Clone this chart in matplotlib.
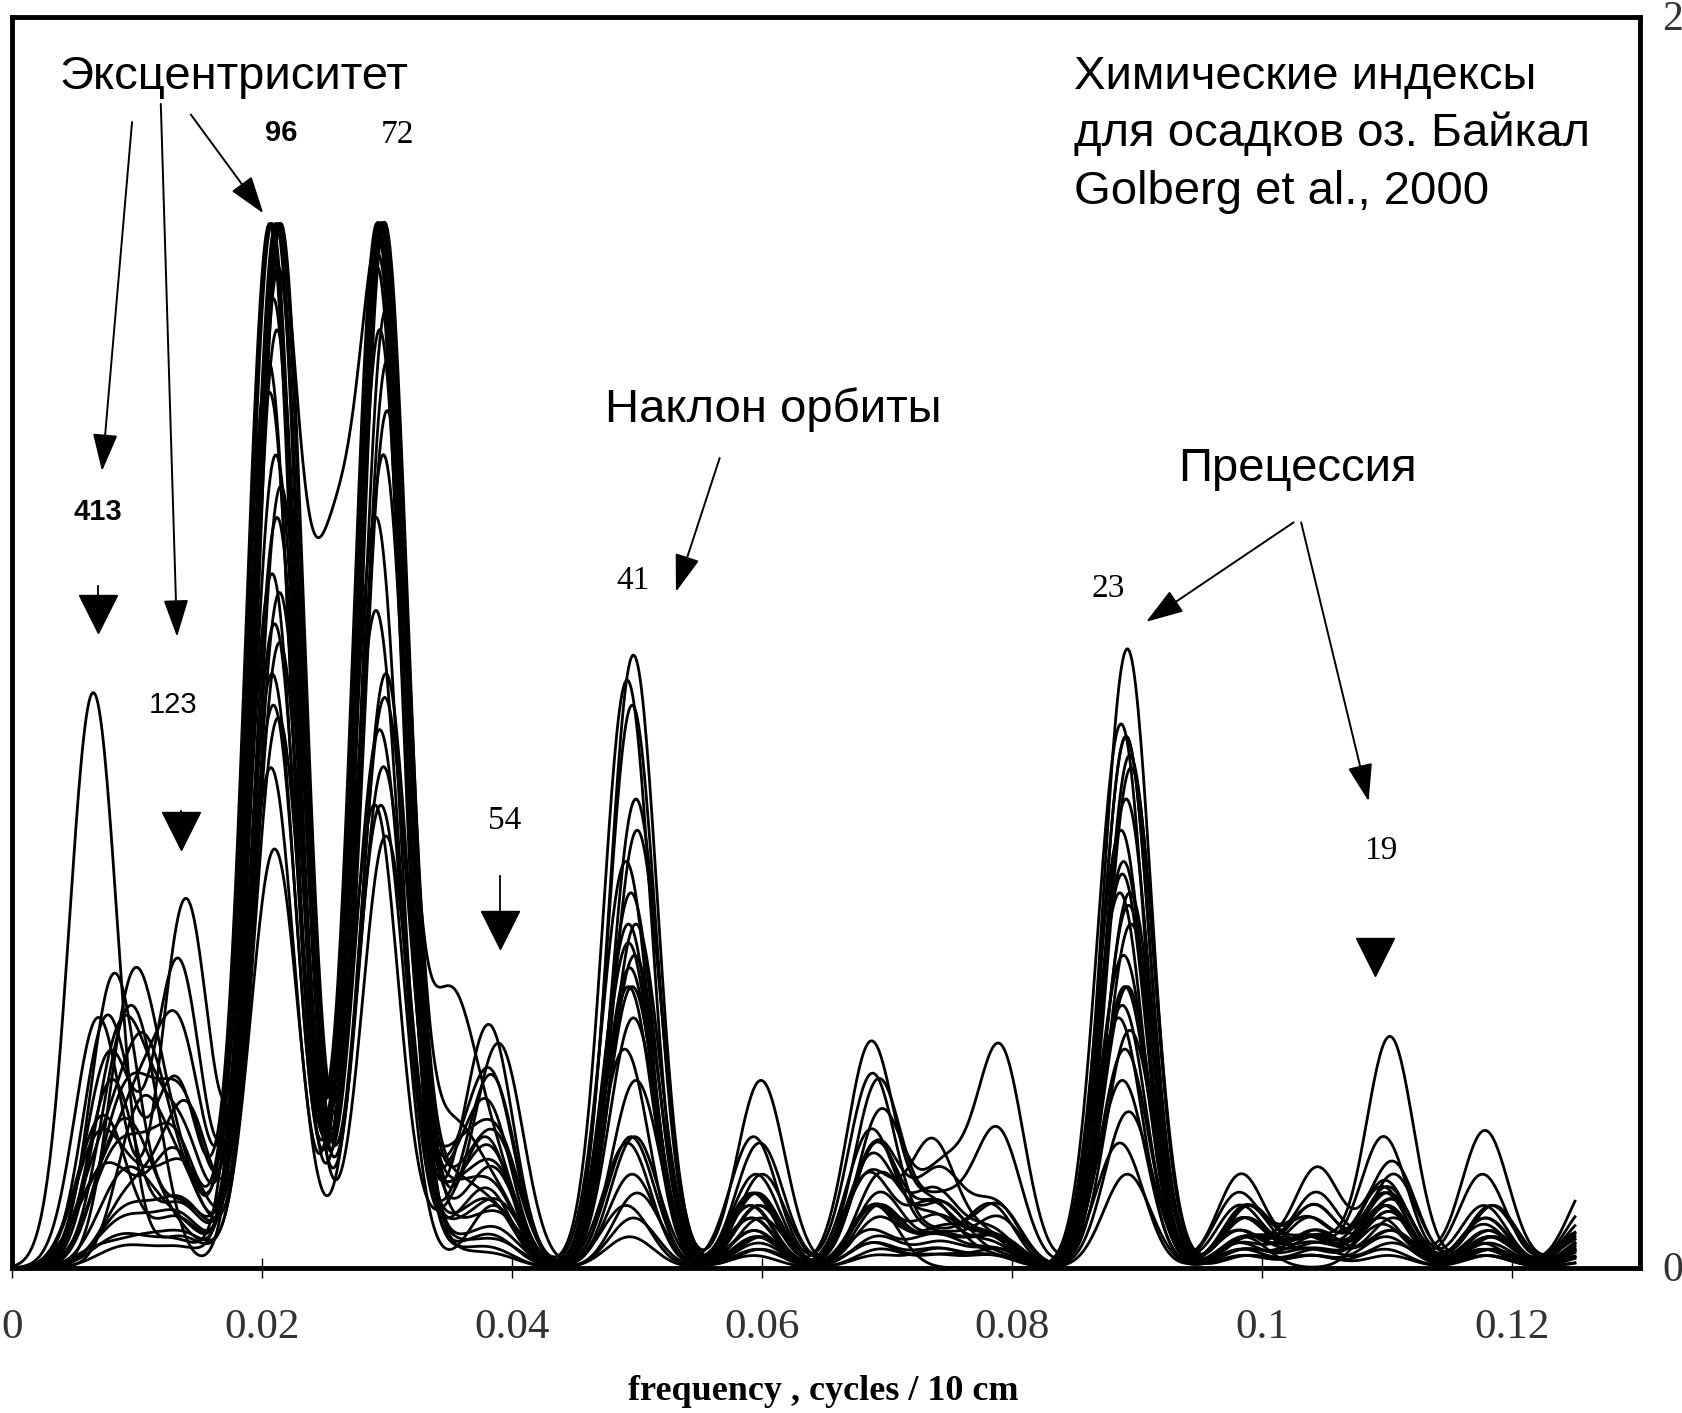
import numpy as np
import matplotlib.pyplot as plt

# spectral peak positions (cycles / 10 cm) shared by all records
peak_freq = [0.0065, 0.0080, 0.0100, 0.0135, 0.0210, 0.0255, 0.0295, 0.0350, 0.0385, 0.0495,
             0.0595, 0.0690, 0.0740, 0.0785, 0.0890, 0.0985, 0.1040, 0.1100, 0.1180, 0.1260]

# peak heights of every index record, one row per record
peak_height = [
    [0.92, 0.00, 0.00, 0.05, 0.67, 0.00, 0.74, 0.00, 0.10, 0.21, 0.05, 0.10, 0.00, 0.00, 0.45, 0.05, 0.00, 0.10, 0.03, 0.02],
    [0.00, 0.47, 0.00, 0.10, 1.67, 0.00, 1.67, 0.10, 0.20, 0.98, 0.10, 0.20, 0.05, 0.05, 0.99, 0.08, 0.05, 0.37, 0.05, 0.10],
    [0.00, 0.00, 0.45, 0.15, 1.67, 0.00, 1.67, 0.05, 0.38, 0.94, 0.12, 0.36, 0.10, 0.02, 0.87, 0.10, 0.05, 0.21, 0.10, 0.05],
    [0.40, 0.00, 0.00, 0.59, 1.67, 0.00, 1.53, 0.20, 0.10, 0.75, 0.30, 0.10, 0.05, 0.05, 0.82, 0.05, 0.16, 0.17, 0.05, 0.14],
    [0.00, 0.34, 0.00, 0.49, 1.11, 0.00, 1.67, 0.10, 0.30, 0.55, 0.21, 0.31, 0.05, 0.10, 0.63, 0.15, 0.05, 0.14, 0.22, 0.05],
    [0.00, 0.25, 0.20, 0.20, 1.60, 0.95, 1.52, 0.40, 0.15, 0.90, 0.05, 0.20, 0.10, 0.05, 0.85, 0.05, 0.10, 0.12, 0.05, 0.08],
    [0.15, 0.00, 0.33, 0.10, 1.67, 0.00, 1.37, 0.05, 0.35, 0.70, 0.15, 0.25, 0.15, 0.35, 0.80, 0.10, 0.05, 0.15, 0.10, 0.05],
    [0.00, 0.40, 0.00, 0.30, 1.67, 0.00, 1.05, 0.10, 0.25, 0.65, 0.10, 0.15, 0.20, 0.05, 0.60, 0.12, 0.08, 0.13, 0.15, 0.06],
    [0.00, 0.20, 0.28, 0.00, 1.60, 0.00, 0.91, 0.15, 0.20, 0.50, 0.20, 0.30, 0.10, 0.22, 0.58, 0.05, 0.12, 0.11, 0.10, 0.04],
    [0.10, 0.00, 0.22, 0.36, 1.55, 0.00, 0.86, 0.05, 0.30, 0.48, 0.12, 0.10, 0.05, 0.05, 0.50, 0.08, 0.05, 0.10, 0.08, 0.03],
    [0.00, 0.15, 0.18, 0.25, 1.50, 0.00, 0.80, 0.10, 0.15, 0.40, 0.05, 0.20, 0.15, 0.10, 0.45, 0.10, 0.10, 0.09, 0.05, 0.05],
    [0.00, 0.10, 0.12, 0.20, 1.45, 0.00, 0.74, 0.05, 0.20, 0.35, 0.10, 0.15, 0.10, 0.05, 0.40, 0.06, 0.05, 0.08, 0.04, 0.03],
    [0.20, 0.00, 0.10, 0.15, 1.08, 0.00, 0.69, 0.05, 0.10, 0.30, 0.08, 0.12, 0.05, 0.08, 0.38, 0.05, 0.06, 0.06, 0.05, 0.02],
    [0.00, 0.30, 0.00, 0.10, 1.03, 0.00, 1.67, 0.10, 0.12, 0.60, 0.15, 0.10, 0.08, 0.05, 0.35, 0.08, 0.04, 0.13, 0.06, 0.04],
    [0.00, 0.12, 0.15, 0.05, 0.95, 0.00, 1.67, 0.08, 0.18, 0.45, 0.06, 0.18, 0.12, 0.06, 0.30, 0.04, 0.08, 0.12, 0.08, 0.06],
    [0.00, 0.00, 0.25, 0.12, 0.88, 0.00, 1.67, 0.12, 0.08, 0.21, 0.10, 0.08, 0.06, 0.10, 0.25, 0.10, 0.03, 0.11, 0.03, 0.05],
    [0.08, 0.18, 0.00, 0.08, 0.80, 0.00, 1.60, 0.05, 0.10, 0.20, 0.08, 0.22, 0.08, 0.04, 0.70, 0.06, 0.05, 0.10, 0.07, 0.03],
    [0.00, 0.08, 0.10, 0.06, 1.30, 0.00, 1.67, 0.06, 0.15, 0.15, 0.12, 0.10, 0.05, 0.03, 0.75, 0.03, 0.06, 0.09, 0.04, 0.06],
    [0.00, 0.06, 0.08, 0.25, 1.25, 0.00, 1.45, 0.05, 0.08, 0.12, 0.05, 0.15, 0.10, 0.02, 0.55, 0.05, 0.04, 0.08, 0.05, 0.04],
    [0.05, 0.10, 0.05, 0.18, 1.40, 0.00, 1.20, 0.04, 0.12, 0.10, 0.08, 0.06, 0.05, 0.05, 0.20, 0.04, 0.03, 0.07, 0.03, 0.02],
    [0.00, 0.05, 0.06, 0.10, 1.20, 0.00, 1.30, 0.03, 0.06, 0.08, 0.04, 0.05, 0.04, 0.03, 0.15, 0.03, 0.05, 0.06, 0.06, 0.03],
    [0.00, 0.04, 0.05, 0.08, 0.90, 0.00, 1.50, 0.02, 0.05, 0.05, 0.06, 0.04, 0.03, 0.02, 0.65, 0.02, 0.02, 0.05, 0.02, 0.02],
    [0.03, 0.00, 0.04, 0.05, 1.00, 0.00, 0.95, 0.03, 0.04, 0.55, 0.03, 0.03, 0.02, 0.03, 0.60, 0.02, 0.03, 0.04, 0.03, 0.01],
    [0.00, 0.03, 0.03, 0.04, 1.67, 0.00, 1.62, 0.02, 0.03, 0.52, 0.02, 0.04, 0.02, 0.02, 0.42, 0.03, 0.02, 0.03, 0.02, 0.02],
    [0.00, 0.02, 0.02, 0.03, 1.67, 0.00, 1.67, 0.02, 0.02, 0.45, 0.03, 0.02, 0.03, 0.02, 0.85, 0.02, 0.02, 0.02, 0.02, 0.01],
]
# small frequency offset of each record
peak_shift = [0.0000, 0.0002, -0.0003, 0.0004, -0.0002, 0.0001, 0.0005, -0.0004, 0.0003, -0.0001,
              0.0002, -0.0005, 0.0004, 0.0000, -0.0002, 0.0003, -0.0003, 0.0001, 0.0005, -0.0004,
              0.0002, -0.0001, 0.0004, -0.0002, 0.0001]

xticks = [0, 0.02, 0.04, 0.06, 0.08, 0.1, 0.12]
xtick_labels = ['0', '0.02', '0.04', '0.06', '0.08', '0.1', '0.12']

# periods (kyr) marked over the peaks
period_labels = ['413', '123', '96', '72', '54', '41', '23', '19']

source_lines = ['Химические индексы', 'для осадков оз. Байкал', 'Golberg et al., 2000']

sigma = 0.0019
freq = np.linspace(0, 0.125, 1200)
centers = np.array(peak_freq)

fig = plt.figure(figsize=(16.83, 14.13), dpi=100)
ax = fig.add_axes([0.00713, 0.1026, 0.9673, 0.8854])

for heights, dx in zip(peak_height, peak_shift):
    h = np.array(heights)
    spec = (h[:, None] * np.exp(-(freq[None, :] - centers[:, None] - dx) ** 2 / (2 * sigma ** 2))).sum(axis=0)
    ax.plot(freq, spec, color='black', lw=2.0, solid_joinstyle='round')

ax.set_xlim(0, 0.1302)
ax.set_ylim(0, 2)
for s in ax.spines.values():
    s.set_linewidth(3.5)
ax.set_yticks([])
ax.set_xticks(xticks)
ax.set_xticklabels(xtick_labels, family='Liberation Serif', fontsize=31, color='#333333')
ax.tick_params(axis='x', direction='inout', length=14, width=1, pad=22)

fig.text(0.489, 0.0149, 'frequency , cycles / 10 cm', family='Liberation Serif',
         fontweight='bold', fontsize=26, ha='center', va='center')
fig.text(0.9875, 0.986, '2', family='Liberation Serif', fontsize=30, color='#333333', va='center', ha='left')
fig.text(0.9875, 0.101, '0', family='Liberation Serif', fontsize=30, color='#333333', va='center', ha='left')

sans = 'Liberation Sans'
serif = 'Liberation Serif'
ax.text(0.0038, 1.904, 'Эксцентриситет', family=sans, fontsize=34, va='center', ha='left')
for line, y in zip(source_lines, [1.904, 1.813, 1.720]):
    ax.text(0.0849, y, line, family=sans, fontsize=34, va='center', ha='left')
ax.text(0.0474, 1.372, 'Наклон орбиты', family=sans, fontsize=34, va='center', ha='left')
ax.text(0.0933, 1.278, 'Прецессия', family=sans, fontsize=34, va='center', ha='left')

# period numbers: position, font family, weight
label_pos = [(0.0069, 1.209), (0.0129, 0.900), (0.0215, 1.815), (0.0308, 1.811),
             (0.0394, 0.715), (0.0497, 1.098), (0.0877, 1.086), (0.1095, 0.667)]
label_font = [(sans, 'bold', 21), (sans, 'normal', 21), (sans, 'bold', 21), (serif, 'normal', 24),
              (serif, 'normal', 24), (serif, 'normal', 24), (serif, 'normal', 24), (serif, 'normal', 24)]
for txt, (x, y), (fam, wt, fs) in zip(period_labels, label_pos, label_font):
    ax.text(x, y, txt, family=fam, fontweight=wt, fontsize=fs, ha='center', va='center')

# filled triangles marking the expected periods
tri_pos = [(0.0069, 1.046), (0.0135, 0.698), (0.0390, 0.540), (0.1090, 0.497)]
tri_stem = [1.09, 0.73, 0.626, None]
for (x, y), top in zip(tri_pos, tri_stem):
    ax.plot([x], [y], marker='v', ms=27, color='black', mec='black')
    if top is not None:
        ax.plot([x, x], [y + 0.025, top], color='black', lw=1.3)

# arrows from the orbital cycle names to the peaks
arrows = [((0.0096, 1.832), (0.0072, 1.274)),
          ((0.0119, 1.861), (0.0132, 1.009)),
          ((0.0143, 1.844), (0.0201, 1.686)),
          ((0.0566, 1.295), (0.0531, 1.081)),
          ((0.1025, 1.192), (0.0907, 1.033)),
          ((0.1031, 1.192), (0.1085, 0.746))]
for start, end in arrows:
    ax.annotate('', xy=end, xytext=start,
                arrowprops=dict(arrowstyle='-|>,head_length=0.9,head_width=0.3', lw=1.4,
                                color='black', mutation_scale=26, shrinkA=0, shrinkB=0))

fig.savefig('out.png', dpi=100)
